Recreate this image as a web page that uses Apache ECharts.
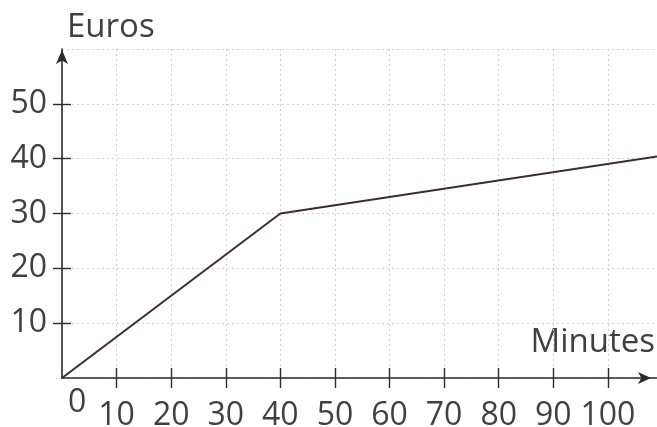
<!DOCTYPE html>
<html>
<head>
<meta charset="utf-8">
<script src="https://cdn.jsdelivr.net/npm/echarts@6/dist/echarts.min.js"></script>
<style>
html,body{margin:0;padding:0;background:#fff;}
#chart{width:657px;height:427px;}
</style>
</head>
<body>
<div id="chart"></div>
<script>
// Data
var minutes = [0, 40, 109];
var euros = [0, 30, 40.4];
var xTickValues = [10, 20, 30, 40, 50, 60, 70, 80, 90, 100];
var yTickValues = [10, 20, 30, 40, 50];
var xTitle = 'Minutes';
var yTitle = 'Euros';
var originLabel = '0';

var FONT = '"Open Sans", sans-serif';
var TXT = '#404040';
var AX = '#2b2b2b';
var GRIDC = '#cdd1d6';

var points = minutes.map(function (m, i) { return [m, euros[i]]; });

var xBase = { type: 'value', min: 0, max: 109, interval: 10, position: 'bottom', gridIndex: 0 };
var yBase = { type: 'value', min: 0, max: 60, interval: 10, position: 'left', gridIndex: 0 };

function ext(base, o) { var r = {}; for (var k in base) r[k] = base[k]; for (var k2 in o) r[k2] = o[k2]; return r; }

var chart = echarts.init(document.getElementById('chart'), null, { renderer: 'canvas' });
chart.setOption({
  animation: false,
  backgroundColor: '#ffffff',
  grid: { left: 62, right: 0, top: 49, bottom: 49, containLabel: false, outerBoundsMode: 'none' },
  xAxis: [
    ext(xBase, {
      axisLine: { show: false }, axisTick: { show: false }, axisLabel: { show: false },
      splitLine: { show: true, lineStyle: { color: GRIDC, type: [2, 3], width: 1 } }
    }),
    ext(xBase, {
      axisLine: { show: true, onZero: false, symbol: ['none', 'arrow'], symbolSize: [9, 13], symbolOffset: [0, -6],
        lineStyle: { color: AX, width: 1.6 } },
      axisTick: { show: true, inside: true, length: 10, customValues: xTickValues, lineStyle: { color: AX, width: 1.4 } },
      axisLabel: { show: true, customValues: xTickValues, margin: 22, fontSize: 32, fontFamily: FONT, color: TXT },
      splitLine: { show: false }
    }),
    ext(xBase, {
      axisLine: { show: false, onZero: false },
      axisTick: { show: true, inside: false, length: 10, customValues: xTickValues, lineStyle: { color: AX, width: 1.4 } },
      axisLabel: { show: false },
      splitLine: { show: false }
    })
  ],
  yAxis: [
    ext(yBase, {
      axisLine: { show: false }, axisTick: { show: false }, axisLabel: { show: false },
      splitLine: { show: true, lineStyle: { color: GRIDC, type: [2, 3], width: 1 } }
    }),
    ext(yBase, {
      axisLine: { show: true, onZero: false, symbol: ['none', 'arrow'], symbolSize: [9, 14], symbolOffset: [0, -1],
        lineStyle: { color: AX, width: 1.6 } },
      axisTick: { show: true, inside: true, length: 9, customValues: yTickValues, lineStyle: { color: AX, width: 1.4 } },
      axisLabel: { show: true, customValues: yTickValues, margin: 15, fontSize: 32, fontFamily: FONT, color: TXT },
      splitLine: { show: false }
    }),
    ext(yBase, {
      axisLine: { show: false, onZero: false },
      axisTick: { show: true, inside: false, length: 9, customValues: yTickValues, lineStyle: { color: AX, width: 1.4 } },
      axisLabel: { show: false },
      splitLine: { show: false }
    })
  ],
  graphic: [
    { type: 'text', left: 67, top: 11, style: { text: yTitle, fontSize: 33, fontFamily: FONT, fill: TXT } },
    { type: 'text', right: 2, top: 326, style: { text: xTitle, fontSize: 33, fontFamily: FONT, fill: TXT } },
    { type: 'text', left: 68, top: 387, style: { text: originLabel, fontSize: 32, fontFamily: FONT, fill: TXT } }
  ],
  series: [{
    type: 'line',
    xAxisIndex: 0,
    yAxisIndex: 0,
    data: points,
    symbol: 'none',
    lineStyle: { color: '#3e2a38', width: 2 },
    z: 5
  }]
});
</script>
</body>
</html>
